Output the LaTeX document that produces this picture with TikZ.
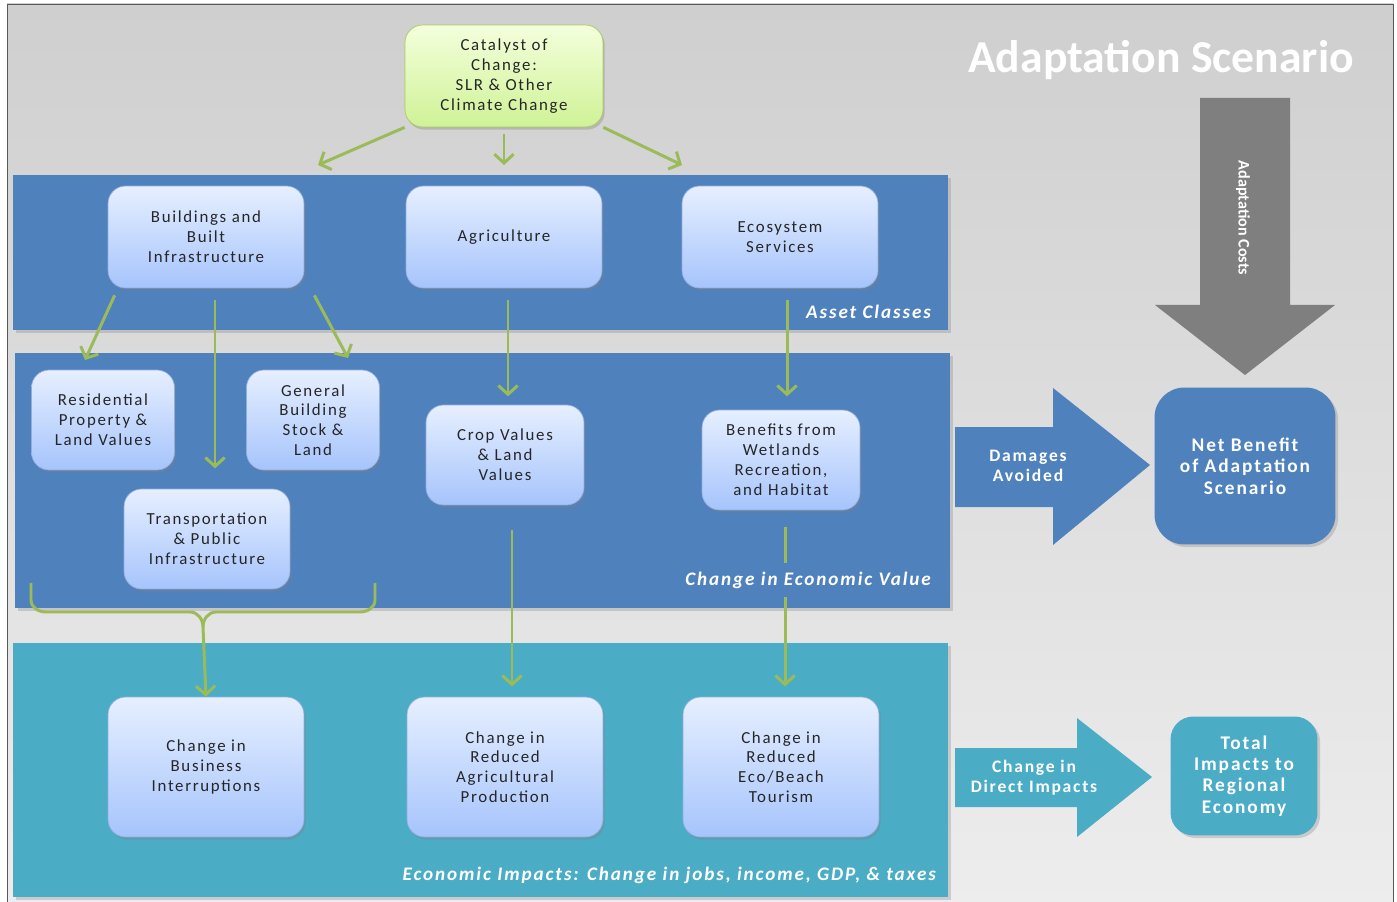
\documentclass[tikz,border=0pt]{standalone}
\usepackage{fontspec}
\setmainfont{Carlito}[LetterSpace=10]
\newfontfamily\tightfont{Carlito}
\usetikzlibrary{arrows.meta,shadows,positioning}

\definecolor{bandblue}{HTML}{4F81BD}
\definecolor{bandteal}{HTML}{4BACC6}
\definecolor{boxtop}{HTML}{E6EFFF}
\definecolor{boxbot}{HTML}{A6C4FC}
\definecolor{boxline}{HTML}{8FAEE0}
\definecolor{boxtext}{HTML}{262626}
\definecolor{cattop}{HTML}{F4FFDC}
\definecolor{catbot}{HTML}{CFF296}
\definecolor{catline}{HTML}{A9CB62}
\definecolor{flowgreen}{HTML}{9BBB59}
\definecolor{costgray}{HTML}{7F7F7F}
\definecolor{backtop}{HTML}{CFCFCF}
\definecolor{backbot}{HTML}{EDEDED}

\tikzset{
  band/.style={drop shadow={shadow xshift=1.5pt,shadow yshift=-1.5pt,opacity=0.3}},
  asset/.style={draw=boxline, line width=0.4pt, rounded corners=10pt,
    top color=boxtop, bottom color=boxbot, align=center, text=boxtext,
    font=\fontsize{9.6}{11.3}\selectfont, inner sep=0pt,
    drop shadow={shadow xshift=1pt,shadow yshift=-1.5pt,opacity=0.35}},
  flow/.style={draw=flowgreen, line width=1.7pt, -{Straight Barb[length=5pt,width=11pt]}},
  bandlabel/.style={text=white, font=\fontsize{10.9}{13}\selectfont\bfseries\itshape,
    anchor=east, inner xsep=1pt},
  result/.style={text=white, align=center, inner sep=0pt,
    font=\fontsize{11}{12.2}\selectfont\bfseries,
    drop shadow={shadow xshift=1.5pt,shadow yshift=-1.5pt,opacity=0.3}},
  arrowtext/.style={text=white, align=center, font=\fontsize{10}{11.3}\selectfont\bfseries}
}

\begin{document}
\begin{tikzpicture}[x=0.02cm, y=-0.02cm]
\useasboundingbox (0,0) rectangle (1397,902);
% background
\shade[top color=backtop, bottom color=backbot, draw=gray!70!black, line width=0.4pt]
  (7,4) rectangle (1393,906);

% bands
\fill[band, bandblue] (13,175) rectangle (948,330);
\fill[band, bandblue] (15,353) rectangle (950,608);
\fill[band, bandteal] (13,643) rectangle (948,897);

% catalyst
\node[asset, draw=catline, top color=cattop, bottom color=catbot,
  minimum width=3.96cm, minimum height=2.04cm] (cat) at (504,76)
  {Catalyst of\\Change:\\SLR \& Other\\Climate Change};

% asset classes
\node[asset, minimum width=3.92cm, minimum height=2.04cm] (bld) at (206,237) {Buildings and\\Built\\Infrastructure};
\node[asset, minimum width=3.92cm, minimum height=2.04cm] (agr) at (504,237) {Agriculture};
\node[asset, minimum width=3.92cm, minimum height=2.04cm] (eco) at (780,237) {Ecosystem\\Services};

% economic value
\node[asset, minimum width=2.86cm, minimum height=2.0cm] (res) at (103,420) {Residential\\Property \&\\Land Values};
\node[asset, minimum width=2.66cm, minimum height=2.0cm] (gen) at (313,420) {General\\Building\\Stock \&\\Land};
\node[asset, minimum width=3.16cm, minimum height=2.0cm] (crop) at (505,455) {Crop Values\\\& Land\\Values};
\node[asset, minimum width=3.16cm, minimum height=2.0cm] (ben) at (781,460) {Benefits from\\Wetlands\\Recreation,\\and Habitat};
\node[asset, minimum width=3.32cm, minimum height=2.0cm] (trn) at (207,539) {Transportation\\\& Public\\Infrastructure};

% economic impacts
\node[asset, minimum width=3.92cm, minimum height=2.8cm] (biz) at (206,767) {Change in\\Business\\Interruptions};
\node[asset, minimum width=3.92cm, minimum height=2.8cm] (agp) at (505,767) {Change in\\Reduced\\Agricultural\\Production};
\node[asset, minimum width=3.92cm, minimum height=2.8cm] (tour) at (781,767) {Change in\\Reduced\\Eco/Beach\\Tourism};

% flows
\draw[flow] (cat.south west) -- (318,165);
\draw[flow] ([yshift=-4pt]cat.south) -- (504,165);
\draw[flow] (cat.south east) -- (682,165);
\draw[flow] ([shift={(7,7)}]bld.south west) -- (85,360);
\draw[flow] ([shift={(9,12)}]bld.south) -- ++(0,168);
\draw[flow] ([shift={(10,7)}]bld.south east) -- (348,358);
\draw[flow] ([shift={(4,12)}]agr.south) -- ++(0,96);
\draw[flow] ([shift={(7,12)}]eco.south) -- ++(0,96);
\draw[flow] ([shift={(7,25)}]crop.south) -- ++(0,156);
\draw[flow] ([shift={(4,17)}]ben.south) -- ++(0,159);
% brace
\draw[flow] (31,583) -- (31,600) to[out=-90,in=180] (46,612)
  -- (190,612) to[out=0,in=90] (203,627) -- (biz.north);
\draw[draw=flowgreen, line width=1.7pt] (375,583) -- (375,600) to[out=-90,in=0] (360,612)
  -- (216,612) to[out=180,in=90] (203,627);

% band labels
\node[bandlabel] (lasset) at (933,312) {Asset Classes};
\node[bandlabel, fill=bandblue, inner ysep=5pt] (lvalue) at (933,580) {Change in Economic Value};
\node[bandlabel] (limpact) at (938,875) {Economic Impacts: Change in jobs, income, GDP, \& taxes};

% right side
\node[text=white, font=\tightfont\fontsize{26}{30}\selectfont\bfseries] (title) at (1161,60) {Adaptation Scenario};
\fill[costgray] (1200,98) -- (1290,98) -- (1290,305) -- (1335,305) -- (1245,375)
  -- (1155,305) -- (1200,305) -- cycle;
\node[text=white, rotate=-90, font=\tightfont\fontsize{9.2}{10}\selectfont\bfseries] (costtxt) at (1243,218) {Adaptation Costs};

\fill[bandblue] (955,427) -- (1053,427) -- (1053,388) -- (1150,465) -- (1053,545)
  -- (1053,507) -- (955,507) -- cycle;
\node[arrowtext] (damtxt) at (1028,466) {Damages\\Avoided};
\node[result, fill=bandblue, rounded corners=17pt, minimum width=3.62cm, minimum height=3.14cm] (net) at (1245,466)
  {Net Benefit\\of Adaptation\\Scenario};

\fill[bandteal] (955,748) -- (1077,748) -- (1077,718) -- (1152,777) -- (1077,837)
  -- (1077,807) -- (955,807) -- cycle;
\node[arrowtext] (dirtxt) at (1034,778) {Change in\\Direct Impacts};
\node[result, fill=bandteal, rounded corners=13pt, minimum width=2.94cm, minimum height=2.38cm] (total) at (1244,776)
  {Total\\Impacts to\\Regional\\Economy};
\end{tikzpicture}
\end{document}
